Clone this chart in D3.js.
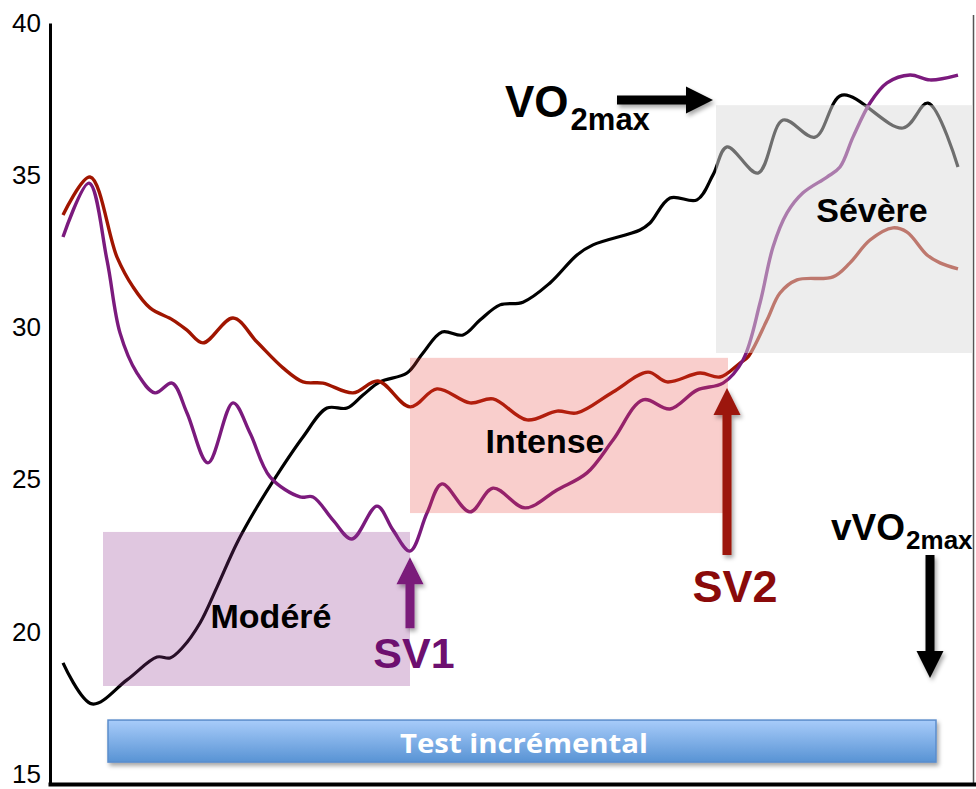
<!DOCTYPE html>
<html>
<head>
<meta charset="utf-8">
<script src="https://cdn.jsdelivr.net/npm/d3@7"></script>
<style>
  html, body { margin: 0; padding: 0; background: #fff; }
  svg { display: block; }
</style>
</head>
<body>
<svg id="chart" width="976" height="789"></svg>
<script>
// Time axis (min) and VO2 values of the three traces
const vo2 = [
  [0.55,18.98],[2.0,17.63],[3.75,18.42],[5.25,19.17],[5.9,19.14],[6.55,19.5],[7.4,20.29],
  [8.25,21.47],[9.25,22.92],[10.25,24.1],[11.25,25.15],[12.55,26.4],[13.75,27.35],[14.75,27.35],
  [15.55,27.78],[16.4,28.21],[17.75,28.5],[18.55,29.16],[19.5,29.85],[20.55,29.75],[21.4,30.24],
  [22.4,30.74],[23.55,30.83],[24.9,31.46],[26.25,32.38],[27.05,32.71],[29.4,33.2],[29.9,33.43],
  [30.9,34.25],[32.25,34.19],[33.05,35.01],[33.75,35.93],[35.3,35.07],[36.55,36.81],[38.15,36.25],
  [39.5,37.63],[42.55,36.55],[43.8,37.37],[45.3,35.27]
];
const eqO2 = [
  [0.55,32.97],[1.85,34.74],[2.75,32.21],[3.4,29.82],[4.25,28.5],[5.15,27.85],[6.0,28.17],
  [6.75,27.19],[7.8,25.55],[9.05,27.52],[9.9,26.53],[10.9,25.09],[12.4,24.43],[13.05,24.43],
  [14.05,23.67],[15.0,23.05],[16.25,24.13],[17.05,23.34],[17.9,22.65],[18.75,23.9],[19.5,24.86],
  [20.9,23.94],[22.05,24.72],[23.65,24.07],[25.25,24.66],[26.75,25.22],[28.05,26.3],[29.55,27.62],
  [30.9,27.32],[32.25,27.94],[33.55,28.17],[34.55,28.93],[35.4,30.8],[36.05,32.64],[36.75,33.76],
  [37.55,34.42],[38.75,34.94],[39.4,35.27],[40.05,36.25],[40.9,37.37],[41.75,38.03],[42.9,38.29],
  [43.9,38.13],[45.3,38.29]
];
const eqCO2 = [
  [0.55,33.69],[1.9,34.94],[3.25,32.31],[4.05,31.33],[4.9,30.64],[6.05,30.24],[6.75,29.91],
  [7.55,29.49],[9.05,30.31],[10.25,29.52],[11.55,28.67],[12.55,28.21],[13.55,28.17],[15.05,27.85],
  [16.3,28.24],[17.9,27.39],[19.25,27.98],[20.9,27.52],[22.05,27.65],[23.75,26.96],[25.25,27.25],
  [26.25,27.19],[28.05,27.88],[29.8,28.53],[30.75,28.21],[32.4,28.5],[33.4,28.37],[34.4,28.83],
  [34.8,29.03],[35.75,30.24],[36.4,31.13],[37.25,31.56],[39.05,31.66],[39.9,32.12],[40.9,32.87],
  [42.05,33.27],[42.75,33.13],[43.75,32.38],[44.4,32.12],[45.3,31.92]
];

// Intensity domains: [start, end] in time and VO2
const zoneNames = ["Modéré", "Intense", "Sévère"];
const zoneTime = [[2.55, 17.9], [17.9, 33.8], [33.2, 46.05]];
const zoneVO2 = [[18.22, 23.28], [23.9, 29.0], [29.16, 37.3]];

// Ventilatory thresholds
const thresholdNames = ["SV1", "SV2"];
const thresholdTime = [17.9, 33.75];
const thresholdVO2 = [22.65, 28.01];

const yTicks = [15, 20, 25, 30, 35, 40];
const testSpan = [2.8, 44.2];
const testVO2 = [15.72, 17.1];
const vvo2maxTime = 43.9;

const svg = d3.select("#chart");
const x = d3.scaleLinear().domain([0, 46]).range([52, 972]);
const y = d3.scaleLinear().domain([15, 40]).range([784, 23]);

const defs = svg.append("defs");
const shadow = defs.append("filter").attr("id", "shadow")
  .attr("x", "-20%").attr("y", "-20%").attr("width", "150%").attr("height", "160%");
shadow.append("feDropShadow").attr("dx", 2).attr("dy", 3).attr("stdDeviation", 2)
  .attr("flood-color", "#000").attr("flood-opacity", 0.35);
const grad = defs.append("linearGradient").attr("id", "testGrad")
  .attr("x1", 0).attr("y1", 0).attr("x2", 0).attr("y2", 1);
grad.append("stop").attr("offset", "0%").attr("stop-color", "#a8ccfa");
grad.append("stop").attr("offset", "100%").attr("stop-color", "#5893d4");

// frame on the right
svg.append("line").attr("x1", 973.5).attr("x2", 973.5).attr("y1", 15).attr("y2", 785)
  .attr("stroke", "#555").attr("stroke-width", 1.5);

// traces
const line = d3.line().x(d => x(d[0])).y(d => y(d[1])).curve(d3.curveCatmullRom.alpha(0.5));
const traces = [
  { data: vo2, color: "#000000", width: 3.2 },
  { data: eqCO2, color: "#a01500", width: 3.4 },
  { data: eqO2, color: "#7b1a7d", width: 3.4 }
];
svg.append("g").selectAll("path").data(traces).join("path")
  .attr("d", d => line(d.data))
  .attr("fill", "none")
  .attr("stroke", d => d.color)
  .attr("stroke-width", d => d.width)
  .attr("stroke-linejoin", "round");

// translucent domain boxes laid over the traces
const zoneFill = ["rgb(143,54,143)", "rgb(231,59,51)", "rgb(220,220,220)"];
const zoneOpacity = [0.28, 0.25, 0.5];
svg.append("g").selectAll("rect").data(zoneNames).join("rect")
  .attr("x", (d, i) => x(zoneTime[i][0]))
  .attr("width", (d, i) => x(zoneTime[i][1]) - x(zoneTime[i][0]))
  .attr("y", (d, i) => y(zoneVO2[i][1]))
  .attr("height", (d, i) => y(zoneVO2[i][0]) - y(zoneVO2[i][1]))
  .attr("fill", (d, i) => zoneFill[i])
  .attr("fill-opacity", (d, i) => zoneOpacity[i]);

// zone labels
const zoneLabelPos = [[10.95, 20.13], [24.65, 25.87], [41.0, 33.45]];
svg.append("g").selectAll("text").data(zoneNames).join("text")
  .attr("x", (d, i) => x(zoneLabelPos[i][0]))
  .attr("y", (d, i) => y(zoneLabelPos[i][1]))
  .attr("text-anchor", "middle")
  .attr("font-family", "'Liberation Sans', Arial, sans-serif")
  .attr("font-weight", "bold")
  .attr("font-size", 34)
  .attr("fill", "#000")
  .text(d => d);

// axes
const yAxis = svg.append("g").attr("transform", `translate(${x(0) - 2},0)`)
  .call(d3.axisLeft(y).tickValues(yTicks).tickSize(0).tickPadding(9).tickFormat(d3.format("d")));
yAxis.select(".domain").attr("stroke", "#000").attr("stroke-width", 3);
yAxis.selectAll("text")
  .attr("font-family", "'Liberation Sans', Arial, sans-serif")
  .attr("font-size", 26).attr("fill", "#000");
// keep the lowest tick label inside the drawing area
yAxis.selectAll(".tick").filter(d => d === 15).select("text").attr("dy", "-0.06em");
svg.append("line").attr("x1", x(0) - 3.5).attr("x2", 976)
  .attr("y1", y(15) + 0.5).attr("y2", y(15) + 0.5)
  .attr("stroke", "#000").attr("stroke-width", 4);

// incremental test bar
const bar = svg.append("g");
bar.append("rect")
  .attr("x", x(testSpan[0])).attr("width", x(testSpan[1]) - x(testSpan[0]))
  .attr("y", y(testVO2[1])).attr("height", y(testVO2[0]) - y(testVO2[1]))
  .attr("fill", "url(#testGrad)").attr("stroke", "#5b8dcc").attr("stroke-width", 1.5)
  .attr("filter", "url(#shadow)");
bar.append("text")
  .attr("x", (x(testSpan[0]) + x(testSpan[1])) / 2 + 2)
  .attr("y", y(testVO2[0]) - 9)
  .attr("text-anchor", "middle")
  .attr("font-family", "'Open Sans', sans-serif")
  .attr("font-weight", 700)
  .attr("font-size", 27)
  .attr("textLength", 248).attr("lengthAdjust", "spacingAndGlyphs")
  .attr("fill", "#fff")
  .text("Test incrémental");

// block arrow helper: tip at (tx, ty), pointing in direction dir
function arrowPath(tx, ty, dir, shaftLen, headLen, headW, shaftW) {
  const p = d3.path();
  const pts = [
    [0, 0], [headLen, -headW / 2], [headLen, -shaftW / 2], [headLen + shaftLen, -shaftW / 2],
    [headLen + shaftLen, shaftW / 2], [headLen, shaftW / 2], [headLen, headW / 2]
  ];
  const back = { up: 1, down: -1 }[dir];
  pts.forEach((q, i) => {
    // q[0] runs back from the tip, q[1] across the arrow
    let px, py;
    if (dir === "right") { px = tx - q[0]; py = ty + q[1]; }
    else { px = tx + q[1]; py = ty + back * q[0]; }
    if (i === 0) p.moveTo(px, py); else p.lineTo(px, py);
  });
  p.closePath();
  return p.toString();
}

const thresholdColor = ["#7a1a7a", "#9c1408"];
const thresholdText = ["#6d0f6f", "#8a0a0a"];
const arrowShaft = [44, 140];
const arrows = svg.append("g").attr("filter", "url(#shadow)");
thresholdNames.forEach((name, i) => {
  const tx = x(thresholdTime[i]);
  const ty = y(thresholdVO2[i]);
  const tip = i === 0 ? ty + 6 : ty;
  arrows.append("path")
    .attr("d", arrowPath(tx, tip, "up", arrowShaft[i], 27, 27, 9))
    .attr("fill", thresholdColor[i]);
});
svg.append("g").selectAll("text").data(thresholdNames).join("text")
  .attr("x", (d, i) => x(thresholdTime[i]) + (i === 0 ? 4 : 8))
  .attr("y", (d, i) => i === 0 ? 668 : 602)
  .attr("text-anchor", "middle")
  .attr("font-family", "'Liberation Sans', Arial, sans-serif")
  .attr("font-weight", "bold")
  .attr("font-size", (d, i) => i === 0 ? 43 : 45)
  .attr("fill", (d, i) => thresholdText[i])
  .text(d => d);

// VO2max marker
const vo2maxPeak = vo2.find(d => d[0] === 33.75);
arrows.append("path")
  .attr("d", arrowPath(x(vo2maxPeak[0]) - 14, 100, "right", 69, 27, 27, 9))
  .attr("fill", "#000");
const vo2maxLabel = svg.append("text")
  .attr("x", 505).attr("y", 117)
  .attr("font-family", "'Liberation Sans', Arial, sans-serif")
  .attr("font-weight", "bold").attr("fill", "#000");
vo2maxLabel.append("tspan").attr("font-size", 44).text("VO");
vo2maxLabel.append("tspan").attr("font-size", 31).attr("dy", 13).attr("dx", 2).text("2max");

// vVO2max marker
arrows.append("path")
  .attr("d", arrowPath(x(vvo2maxTime), 678, "down", 96, 27, 27, 9))
  .attr("fill", "#000");
const vvLabel = svg.append("text")
  .attr("x", 831).attr("y", 540)
  .attr("font-family", "'Liberation Sans', Arial, sans-serif")
  .attr("font-weight", "bold").attr("fill", "#000");
vvLabel.append("tspan").attr("font-size", 37).text("vVO");
vvLabel.append("tspan").attr("font-size", 26).attr("dy", 9).attr("dx", 1).text("2max");
</script>
</body>
</html>
